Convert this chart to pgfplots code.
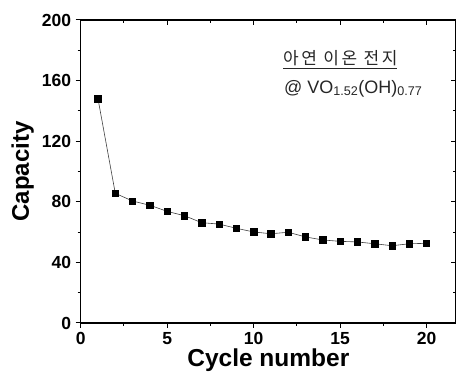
\documentclass[border=0pt]{standalone}
\usepackage{pgfplots}
\pgfplotsset{compat=1.18}
\usepackage{fontspec}
\setmainfont{Liberation Sans}
\newfontfamily\kr[LetterSpace=15]{Noto Sans CJK KR}
\begin{document}
\begin{tikzpicture}
\begin{axis}[
  scale only axis, width=375.3pt, height=303pt,
  xmin=0, xmax=21.7, ymin=0, ymax=200,
  axis x line*=bottom, axis y line*=left,
  axis line style={line width=1.1pt},
  tick align=outside,
  xtick={0,5,10,15,20}, ytick={0,40,80,120,160,200},
  minor x tick num=1, minor y tick num=1,
  major tick length=5pt, minor tick length=3pt,
  every tick/.style={black, line width=1pt},
  tick label style={font=\bfseries\fontsize{17.5}{17.5}\selectfont},
  /pgf/number format/assume math mode=true,
  xticklabel style={yshift=-1pt},
  yticklabel style={xshift=-1pt},
  xlabel={\bfseries\fontsize{24.5}{24.5}\selectfont Cycle number},
  ylabel={\bfseries\fontsize{24}{24}\selectfont Capacity},
  xlabel style={at={(axis description cs:0.5,0)}, anchor=center, yshift=-37pt},
  ylabel style={at={(axis description cs:0,0.5)}, anchor=center, rotate=0, yshift=58pt},
  clip=false,
]
\addplot[color=black!75, line width=0.6pt, mark=square*, mark size=3.2pt, mark options={fill=black, draw=black}]
coordinates {
(1,148) (2,85.6) (3,80.5) (4,77.7) (5,73.7) (6,70.8) (7,66.2) (8,65.3) (9,62.5) (10,60.1)
(11,58.9) (12,59.9) (13,56.8) (14,54.8) (15,53.9) (16,53.5) (17,52.3) (18,51.0) (19,52.3) (20,52.6)
};
\node[anchor=base west, inner sep=0pt, text=black!85] at (axis cs:11.7,170.3) {\kr\fontsize{17}{17}\selectfont\underline{아연 이온 전지}};
\node[anchor=base west, inner sep=0pt, text=black!85] at (axis cs:11.75,151.8) {\fontsize{18}{18}\selectfont @ VO\textsubscript{1.52}(OH)\textsubscript{0.77}};
\end{axis}
\begin{axis}[
  scale only axis, width=375.3pt, height=303pt,
  xmin=0, xmax=21.7, ymin=0, ymax=200,
  axis line style={line width=1.1pt},
  tick align=inside,
  xtick={0,5,10,15,20}, ytick={0,40,80,120,160,200},
  minor x tick num=1, minor y tick num=1,
  major tick length=5pt, minor tick length=3pt,
  every tick/.style={black, line width=1pt},
  xtick pos=right, ytick pos=right,
  xticklabels={}, yticklabels={},
]
\end{axis}
\pgfresetboundingbox
\path[use as bounding box] (-80.7pt,-51pt) rectangle (375.3pt,323pt);
\end{tikzpicture}
\end{document}
